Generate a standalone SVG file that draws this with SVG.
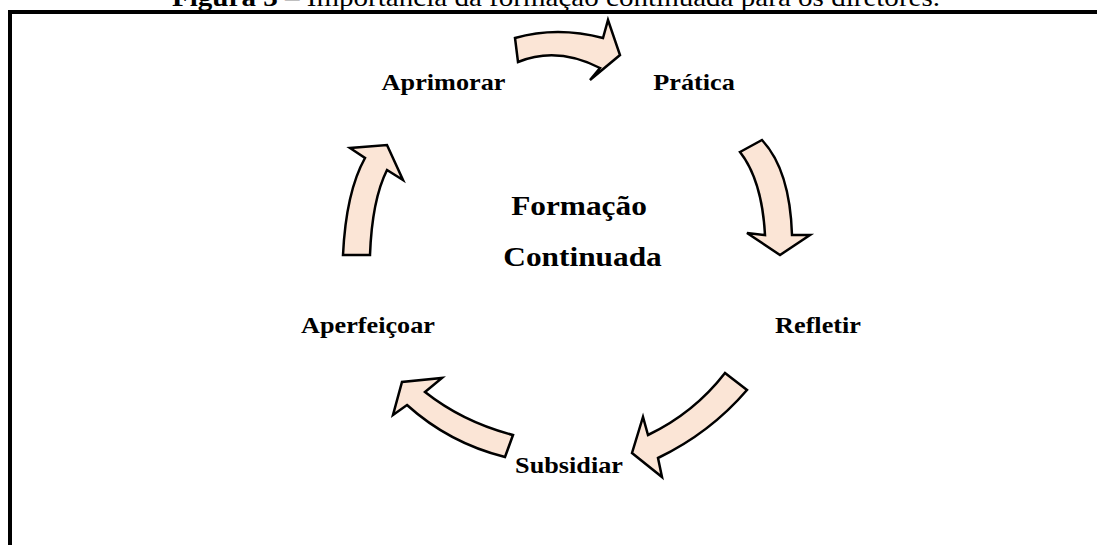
<svg xmlns="http://www.w3.org/2000/svg" width="1097" height="545" viewBox="0 0 1097 545">
<style>
.lbl{font-family:"Liberation Serif","Times New Roman",serif;font-weight:bold;font-size:23px;fill:#000;text-anchor:middle}
.ctr{font-family:"Liberation Serif","Times New Roman",serif;font-weight:bold;font-size:27.5px;fill:#000;text-anchor:middle}
.ttl{font-family:"Liberation Serif","Times New Roman",serif;font-size:25.5px;fill:#000}
.arr{fill:#FBE5D6;stroke:#000;stroke-width:2.5;stroke-linejoin:miter}
.frame{stroke:#000;stroke-width:4;fill:none}
</style>
<rect width="1097" height="545" fill="#fff"/>
<g id="title" transform="translate(172,6) scale(1.14,1)">
<text class="ttl" x="0" y="0"><tspan font-weight="bold">Figura 3</tspan> – Importância da formação continuada para os diretores.</text>
</g>
<g id="frame">
<line class="frame" x1="8" y1="12" x2="1097" y2="12"/>
<line class="frame" x1="10" y1="10" x2="10" y2="545"/>
</g>
<g id="connectors">
<path class="arr" d="M515,38 Q557,26 603,38 L608,20 L620,55 L590,80 L600,68 Q557,46 518,62 Z"/>
<path class="arr" d="M740,152 L762,140 Q790,170 792,235 L810,235 L780,255 L747,233 L765,235 Q762,180 740,152 Z"/>
<path class="arr" d="M725,373 L747,390 Q710,433 658,458 L662,477 L632,453 L643,417 L648,435 Q694,413 725,373 Z"/>
<path class="arr" d="M513,435 Q463,422 425,392 L442,378 L402,382 L393,415 L407,405 Q449,443 505,457 Z"/>
<path class="arr" d="M343,255 Q346,192 365,158 L350,148 L387,145 L403,180 L387,170 Q372,200 370,255 Z"/>
</g>
<g id="center"><g transform="translate(579,215) scale(1.14,1)"><text class="ctr">Formação</text></g><g transform="translate(582.5,266) scale(1.14,1)"><text class="ctr">Continuada</text></g></g>
<g id="aprimorar" transform="translate(443.5,90) scale(1.14,1)"><text class="lbl">Aprimorar</text></g>
<g id="pratica" transform="translate(694,90) scale(1.14,1)"><text class="lbl">Prática</text></g>
<g id="refletir" transform="translate(818,333) scale(1.14,1)"><text class="lbl">Refletir</text></g>
<g id="subsidiar" transform="translate(569,473) scale(1.14,1)"><text class="lbl">Subsidiar</text></g>
<g id="aperfeicoar" transform="translate(368,333) scale(1.14,1)"><text class="lbl">Aperfeiçoar</text></g>
</svg>
